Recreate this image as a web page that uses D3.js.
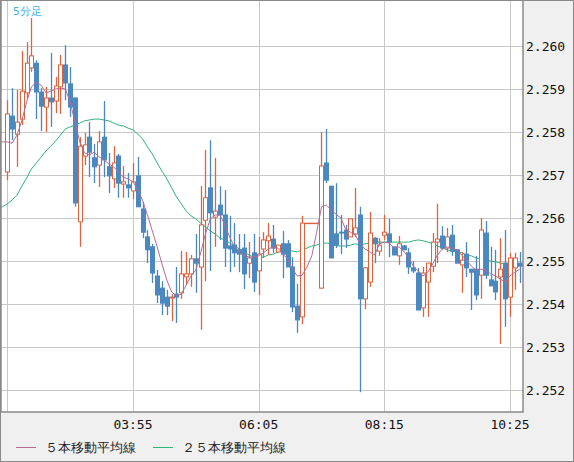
<!DOCTYPE html>
<html>
<head>
<meta charset="utf-8">
<script src="https://cdn.jsdelivr.net/npm/d3@7"></script>
<style>
  body { margin: 0; background: #f0f0f0; }
  svg { display: block; }
  text { font-family: "DejaVu Sans Mono", monospace; }
</style>
</head>
<body>
<svg id="chart" width="574" height="462"></svg>
<script>
// 5-minute candles starting 01:45
const startTime = "01:45";
const opens = [2.25707,2.25837,2.25795,2.25830,2.25891,2.25949,2.25960,2.25893,2.25858,2.25879,2.25872,2.25905,2.25956,2.25912,2.25879,2.25591,2.25744,2.25788,2.25740,2.25723,2.25788,2.25719,2.25691,2.25744,2.25679,2.25677,2.25663,2.25698,2.25621,2.25556,2.25533,2.25465,2.25437,2.25416,2.25414,2.25423,2.25426,2.25463,2.25470,2.25505,2.25486,2.25595,2.25670,2.25602,2.25630,2.25607,2.25535,2.25537,2.25526,2.25530,2.25495,2.25519,2.25477,2.25528,2.25547,2.25551,2.25521,2.25540,2.25540,2.25486,2.25395,2.25370,2.25588,2.25588,2.25588,2.25437,2.25728,2.25674,2.25563,2.25567,2.25572,2.25556,2.25563,2.25607,2.25412,2.25451,2.25553,2.25523,2.25560,2.25563,2.25533,2.25512,2.25535,2.25519,2.25484,2.25472,2.25391,2.25451,2.25488,2.25544,2.25558,2.25530,2.25560,2.25526,2.25491,2.25516,2.25481,2.25481,2.25467,2.25565,2.25456,2.25453,2.25463,2.25495,2.25416,2.25484,2.25495];
const highs = [2.25874,2.25902,2.25898,2.25988,2.26009,2.26065,2.25967,2.25902,2.25905,2.25984,2.25928,2.25979,2.26002,2.25951,2.25881,2.25788,2.25798,2.25823,2.25772,2.25802,2.25872,2.25751,2.25767,2.25749,2.25721,2.25705,2.25728,2.25742,2.25637,2.25572,2.25540,2.25479,2.25453,2.25433,2.25423,2.25486,2.25523,2.25521,2.25514,2.25563,2.25674,2.25758,2.25781,2.25740,2.25674,2.25665,2.25605,2.25588,2.25563,2.25563,2.25544,2.25563,2.25556,2.25567,2.25588,2.25584,2.25537,2.25570,2.25549,2.25509,2.25447,2.25605,2.25588,2.25588,2.25588,2.25800,2.25807,2.25674,2.25681,2.25607,2.25584,2.25598,2.25670,2.25626,2.25486,2.25614,2.25556,2.25553,2.25607,2.25598,2.25533,2.25558,2.25537,2.25530,2.25500,2.25484,2.25486,2.25495,2.25565,2.25633,2.25581,2.25577,2.25584,2.25526,2.25521,2.25544,2.25481,2.25512,2.25600,2.25593,2.25533,2.25526,2.25553,2.25572,2.25519,2.25519,2.25521];
const lows = [2.25688,2.25781,2.25719,2.25816,2.25879,2.25940,2.25830,2.25802,2.25800,2.25812,2.25844,2.25842,2.25874,2.25835,2.25626,2.25533,2.25723,2.25695,2.25681,2.25672,2.25695,2.25658,2.25670,2.25647,2.25647,2.25647,2.25644,2.25626,2.25553,2.25495,2.25449,2.25402,2.25374,2.25374,2.25360,2.25356,2.25412,2.25444,2.25440,2.25426,2.25340,2.25453,2.25477,2.25533,2.25549,2.25486,2.25474,2.25486,2.25474,2.25435,2.25460,2.25428,2.25421,2.25507,2.25514,2.25519,2.25521,2.25460,2.25486,2.25381,2.25333,2.25353,2.25588,2.25588,2.25588,2.25435,2.25681,2.25507,2.25530,2.25516,2.25530,2.25556,2.25556,2.25195,2.25388,2.25440,2.25495,2.25512,2.25549,2.25509,2.25514,2.25491,2.25526,2.25470,2.25472,2.25386,2.25370,2.25370,2.25474,2.25495,2.25526,2.25521,2.25512,2.25495,2.25426,2.25463,2.25386,2.25409,2.25412,2.25458,2.25442,2.25409,2.25307,2.25347,2.25370,2.25433,2.25449];
const closes = [2.25842,2.25807,2.25823,2.25895,2.25960,2.25977,2.25893,2.25860,2.25879,2.25870,2.25907,2.25956,2.25914,2.25858,2.25635,2.25767,2.25770,2.25753,2.25719,2.25777,2.25735,2.25698,2.25728,2.25681,2.25684,2.25670,2.25684,2.25626,2.25567,2.25526,2.25472,2.25421,2.25402,2.25395,2.25416,2.25416,2.25470,2.25470,2.25505,2.25495,2.25584,2.25647,2.25612,2.25616,2.25607,2.25530,2.25528,2.25519,2.25516,2.25470,2.25507,2.25451,2.25516,2.25549,2.25558,2.25530,2.25537,2.25516,2.25486,2.25393,2.25363,2.25588,2.25588,2.25588,2.25588,2.25721,2.25688,2.25507,2.25537,2.25565,2.25551,2.25598,2.25577,2.25412,2.25484,2.25565,2.25540,2.25537,2.25567,2.25544,2.25514,2.25540,2.25526,2.25486,2.25477,2.25386,2.25472,2.25495,2.25544,2.25551,2.25530,2.25556,2.25523,2.25495,2.25502,2.25484,2.25474,2.25421,2.25572,2.25467,2.25442,2.25428,2.25481,2.25412,2.25507,2.25507,2.25488];

// moving averages, first value at candle index -2
const ma5 = [2.25777,2.25777,2.25777,2.25774,2.25793,2.25826,2.25870,2.25905,2.25916,2.25909,2.25891,2.25895,2.25900,2.25902,2.25900,2.25870,2.25823,2.25777,2.25751,2.25747,2.25753,2.25742,2.25735,2.25726,2.25719,2.25707,2.25695,2.25691,2.25684,2.25667,2.25640,2.25607,2.25570,2.25533,2.25493,2.25456,2.25428,2.25419,2.25423,2.25444,2.25465,2.25479,2.25519,2.25563,2.25598,2.25607,2.25607,2.25584,2.25556,2.25533,2.25521,2.25514,2.25509,2.25509,2.25512,2.25519,2.25528,2.25533,2.25530,2.25516,2.25505,2.25481,2.25465,2.25467,2.25486,2.25512,2.25567,2.25626,2.25630,2.25619,2.25609,2.25600,2.25574,2.25567,2.25560,2.25540,2.25528,2.25521,2.25514,2.25540,2.25544,2.25542,2.25530,2.25533,2.25523,2.25509,2.25488,2.25477,2.25465,2.25474,2.25493,2.25514,2.25528,2.25533,2.25530,2.25526,2.25514,2.25502,2.25488,2.25479,2.25481,2.25479,2.25470,2.25465,2.25458,2.25451,2.25465,2.25474,2.25481];
const ma25 = [2.25623,2.25626,2.25633,2.25642,2.25653,2.25674,2.25693,2.25714,2.25728,2.25742,2.25756,2.25767,2.25779,2.25793,2.25807,2.25812,2.25816,2.25821,2.25826,2.25828,2.25830,2.25830,2.25828,2.25826,2.25821,2.25816,2.25814,2.25809,2.25805,2.25795,2.25784,2.25765,2.25749,2.25728,2.25709,2.25691,2.25670,2.25649,2.25633,2.25616,2.25605,2.25598,2.25588,2.25579,2.25570,2.25563,2.25553,2.25549,2.25542,2.25535,2.25528,2.25521,2.25514,2.25509,2.25507,2.25509,2.25514,2.25516,2.25521,2.25523,2.25526,2.25523,2.25521,2.25526,2.25530,2.25535,2.25537,2.25540,2.25542,2.25540,2.25535,2.25535,2.25535,2.25537,2.25540,2.25537,2.25540,2.25542,2.25542,2.25544,2.25544,2.25544,2.25544,2.25544,2.25544,2.25544,2.25547,2.25549,2.25547,2.25544,2.25540,2.25535,2.25530,2.25526,2.25523,2.25521,2.25519,2.25514,2.25512,2.25507,2.25505,2.25502,2.25500,2.25498,2.25495,2.25493,2.25491,2.25491,2.25491];

const yTicks = [2.252, 2.253, 2.254, 2.255, 2.256, 2.257, 2.258, 2.259, 2.260];
const xTickIdx = [0, 26, 52, 78, 104];
const xTickLabels = ["", "03:55", "06:05", "08:15", "10:25"];
const legendLabels = ["５本移動平均線", "２５本移動平均線"];

const upColor = "#d9643f", downColor = "#4a88bf";
const ma5Color = "#b86a93", ma25Color = "#2fb47a";

const svg = d3.select("#chart");
const plot = { left: 1, top: 0, right: 523, bottom: 412 };

const x = d3.scaleLinear().domain([0, 104]).range([7.3, 510]);
const y = d3.scaleLinear().domain([2.252, 2.260]).range([390, 46]);

svg.append("rect").attr("x", 0).attr("y", 0).attr("width", 574).attr("height", 462).attr("fill", "#f0f0f0");
svg.append("rect").attr("x", plot.left).attr("y", plot.top)
  .attr("width", plot.right - plot.left).attr("height", plot.bottom - plot.top).attr("fill", "#fff");

svg.append("defs").append("clipPath").attr("id", "clip").append("rect")
  .attr("x", plot.left).attr("y", plot.top)
  .attr("width", plot.right - plot.left).attr("height", plot.bottom - plot.top);

const grid = svg.append("g").attr("stroke", "#c8c8c8").attr("stroke-width", 1);
grid.selectAll("line.h").data(yTicks).join("line")
  .attr("x1", plot.left).attr("x2", plot.right)
  .attr("y1", (d) => Math.round(y(d)) + 0.5).attr("y2", (d) => Math.round(y(d)) + 0.5);
grid.selectAll("line.v").data(xTickIdx).join("line")
  .attr("y1", plot.top).attr("y2", plot.bottom)
  .attr("x1", (d) => Math.round(x(d)) + 0.5).attr("x2", (d) => Math.round(x(d)) + 0.5);

const g = svg.append("g").attr("clip-path", "url(#clip)");

const maLine = (offset) => d3.line().x((d, i) => x(i + offset)).y((d) => y(d));
g.append("path").datum(ma25).attr("fill", "none").attr("stroke", ma25Color).attr("stroke-width", 1).attr("d", maLine(-2));

const candles = opens.map((o, i) => ({ i, o, h: highs[i], l: lows[i], c: closes[i] }));
const cg = g.append("g").selectAll("g").data(candles).join("g");
cg.append("line")
  .attr("x1", (d) => Math.round(x(d.i)) + 0.5).attr("x2", (d) => Math.round(x(d.i)) + 0.5)
  .attr("y1", (d) => y(d.h)).attr("y2", (d) => y(d.l))
  .attr("stroke", (d) => (d.c >= d.o ? upColor : downColor)).attr("stroke-width", 1.3);
cg.append("rect")
  .attr("x", (d) => Math.round(x(d.i)) - 1.5)
  .attr("y", (d) => y(Math.max(d.o, d.c)))
  .attr("width", 4)
  .attr("height", (d) => Math.max(0.5, Math.abs(y(d.o) - y(d.c))))
  .attr("fill", (d) => (d.c >= d.o ? "#fff" : downColor))
  .attr("stroke", (d) => (d.c >= d.o ? upColor : downColor))
  .attr("stroke-width", 1);

g.append("path").datum(ma5).attr("fill", "none").attr("stroke", ma5Color).attr("stroke-width", 1).attr("d", maLine(-2));

// frame
svg.append("path").attr("fill", "none").attr("stroke", "#8a8a8a").attr("stroke-width", 1.5)
  .attr("d", `M${plot.left},${plot.top}V${plot.bottom}H${plot.right}V${plot.top}`);
svg.append("rect").attr("x", 0.5).attr("y", 0.5).attr("width", 573).attr("height", 461)
  .attr("fill", "none").attr("stroke", "#8a8a8a");

svg.append("g").selectAll("text").data(yTicks).join("text")
  .attr("x", 526).attr("y", (d) => y(d) + 5)
  .attr("font-size", 13).attr("fill", "#111")
  .text((d) => d.toFixed(3));

svg.append("g").selectAll("text").data(xTickIdx).join("text")
  .attr("x", (d) => x(d)).attr("y", 429).attr("text-anchor", "middle")
  .attr("font-size", 13).attr("fill", "#111")
  .text((d, i) => xTickLabels[i]);

svg.append("text").attr("x", 13).attr("y", 15).attr("font-size", 11)
  .attr("font-family", "Noto Sans CJK JP").attr("fill", "#3cb4e8").text("5分足");

const legend = svg.append("g").selectAll("g").data(legendLabels).join("g")
  .attr("transform", (d, i) => `translate(${i === 0 ? 16 : 153},447)`);
legend.append("line").attr("x1", 0).attr("x2", 20).attr("y1", 0.5).attr("y2", 0.5)
  .attr("stroke", (d, i) => (i === 0 ? ma5Color : ma25Color));
legend.append("text").attr("x", 29).attr("y", 5).attr("font-size", 13)
  .attr("font-family", "Noto Sans CJK JP").attr("fill", "#222")
  .text((d) => d);
</script>
</body>
</html>
